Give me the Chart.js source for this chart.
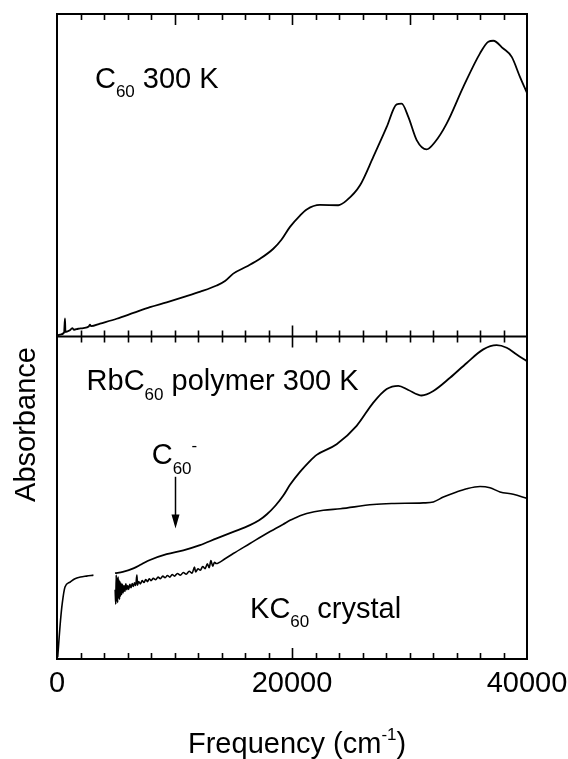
<!DOCTYPE html>
<html><head><meta charset="utf-8">
<script src="https://cdn.jsdelivr.net/npm/chart.js@4.4.0/dist/chart.umd.min.js"></script>
<style>html,body{margin:0;padding:0;background:#fff;}#wrap{width:568px;height:759px;}</style>
</head><body><div id="wrap"><canvas id="c" width="568" height="759"></canvas></div>
<script>
// ---- data (frequency in cm^-1, absorbance in arbitrary units per panel) ----
const c60Freq = [0,255,600,680,720,1100,1300,1450,1800,2240,2700,2800,2900,3660,5080,6500,7910,9330,10750,12200,13590,14300,15000,16140,17280,18410,19100,19830,20680,21250,22380,23940,24650,25790,26920,28060,28910,29330,29900,30610,31460,32170,33160,34580,36000,36710,37130,37980,38700,39400,40000];
const c60Abs  = [0.003,0.006,0.012,0.056,0.014,0.019,0.026,0.021,0.024,0.026,0.031,0.037,0.032,0.040,0.055,0.073,0.091,0.106,0.122,0.139,0.158,0.172,0.195,0.217,0.241,0.272,0.300,0.340,0.375,0.394,0.408,0.407,0.422,0.469,0.557,0.650,0.720,0.722,0.681,0.609,0.580,0.603,0.660,0.774,0.878,0.914,0.917,0.893,0.867,0.805,0.755];

const rbFreq = [4940,5600,6500,7200,7910,9330,10750,12170,13590,15000,16420,17200,17840,18600,19260,19830,20680,21500,22100,23800,25500,26920,28060,29050,29900,31040,32030,33450,34870,36280,37410,38270,39120,40000];
const rbAbs  = [0.266,0.270,0.281,0.294,0.307,0.325,0.337,0.353,0.374,0.394,0.415,0.430,0.448,0.476,0.507,0.540,0.580,0.613,0.633,0.666,0.723,0.795,0.837,0.847,0.834,0.817,0.831,0.872,0.918,0.960,0.973,0.965,0.944,0.923];

const kcFreq = [60,300,450,680,1100,1530,2000,2500,3100,3800,
  4950,5000,5040,5080,5120,5160,5200,5240,5280,5320,5360,5400,5450,5500,5560,5620,5700,5780,5860,5940,6020,6100,6200,6300,6400,6500,6600,6700,6800,6850,6950,7100,7250,7400,7550,7700,7850,8000,8200,8400,8600,8800,9000,9200,9400,9600,9800,10000,10250,10500,10750,11000,11250,11500,11700,11800,12000,12200,12400,12600,12800,12950,13100,13250,13400,13550,
  14300,15000,16420,17840,19260,19830,20300,20680,21250,22670,24100,26920,28480,31170,32030,32880,34010,34870,36000,36850,37700,38830,40000];
const kcAbs  = [0.006,0.120,0.173,0.223,0.238,0.249,0.254,0.257,0.260,null,
  0.215,0.170,0.260,0.180,0.250,0.175,0.255,0.190,0.245,0.185,0.240,0.195,0.235,0.200,0.232,0.205,0.228,0.210,0.233,0.215,0.228,0.216,0.232,0.221,0.234,0.225,0.236,0.228,0.260,0.229,0.240,0.233,0.243,0.237,0.246,0.240,0.249,0.243,0.250,0.246,0.254,0.249,0.257,0.252,0.259,0.254,0.262,0.257,0.265,0.260,0.268,0.263,0.272,0.266,0.285,0.270,0.280,0.275,0.287,0.280,0.295,0.283,0.305,0.288,0.300,0.296,
  0.311,0.327,0.358,0.389,0.418,0.430,0.438,0.444,0.451,0.461,0.466,0.479,0.482,0.484,0.487,0.502,0.518,0.528,0.535,0.531,0.518,0.511,0.498];

const xTickValues = [0, 20000, 40000];
const arrowFreq = 10000;

// ---------------------------------------------------------------------------
const FONT = '"Liberation Sans", Arial, Helvetica, sans-serif';
const toXY = (xs, ys) => xs.map((x, i) => ({x: x, y: ys[i]}));

function rich(ctx, x, y, parts) {
  let cx = x;
  for (const [t, size, dy] of parts) {
    ctx.font = size + 'px ' + FONT;
    ctx.fillText(t, cx, y + dy);
    cx += ctx.measureText(t).width;
  }
  return cx;
}

const framePlugin = {
  id: 'frame',
  afterDraw(chart) {
    const ctx = chart.ctx;
    const xs = chart.scales.x, yt = chart.scales.yTop, yb = chart.scales.yBot;
    const L = xs.left, R = xs.right, T = yt.top, M = yt.bottom, B = yb.bottom;
    ctx.save();
    ctx.strokeStyle = '#000';
    ctx.lineWidth = 2;
    ctx.beginPath();
    ctx.rect(L, T, R - L, B - T);
    ctx.moveTo(L, M); ctx.lineTo(R, M);
    ctx.stroke();
    // inward ticks
    ctx.lineWidth = 1.6;
    ctx.beginPath();
    for (let v = 2000; v < 40000; v += 2000) {
      const px = Math.round(xs.getPixelForValue(v)) + 0.5;
      const topLong = (v % 10000 === 0) ? 11 : 6;
      const long = (v % 20000 === 0) ? 11 : 6;
      ctx.moveTo(px, T); ctx.lineTo(px, T + topLong);
      ctx.moveTo(px, M); ctx.lineTo(px, M - long);
      ctx.moveTo(px, M); ctx.lineTo(px, M + long);
      ctx.moveTo(px, B); ctx.lineTo(px, B - long);
    }
    ctx.stroke();

    // annotations
    ctx.fillStyle = '#000';
    ctx.textAlign = 'left';
    ctx.textBaseline = 'alphabetic';
    rich(ctx, xs.getPixelForValue(3230), yt.getPixelForValue(0.770), [['C', 29, 0], ['60', 17, 9], [' 300 K', 29, 0]]);
    rich(ctx, xs.getPixelForValue(2520), yb.getPixelForValue(0.833), [['RbC', 29, 0], ['60', 17, 10], [' polymer 300 K', 29, 0]]);
    rich(ctx, xs.getPixelForValue(8060), yb.getPixelForValue(0.606), [['C', 29, 0], ['60', 17, 10], ['-', 17, -13]]);
    rich(ctx, xs.getPixelForValue(16430), yb.getPixelForValue(0.126), [['KC', 29, 0], ['60', 17, 9], [' crystal', 29, 0]]);

    // arrow
    const ax = Math.round(xs.getPixelForValue(arrowFreq)) + 0.5;
    const ay1 = yb.getPixelForValue(0.565), ay2 = yb.getPixelForValue(0.405);
    ctx.lineWidth = 1.5;
    ctx.beginPath(); ctx.moveTo(ax, ay1); ctx.lineTo(ax, ay2 - 10); ctx.stroke();
    ctx.beginPath(); ctx.moveTo(ax - 4, ay2 - 14); ctx.lineTo(ax + 4, ay2 - 14); ctx.lineTo(ax, ay2); ctx.closePath(); ctx.fill();

    // axis titles
    rich(ctx, 188, 753, [['Frequency (cm', 29, 0], ['-1', 17, -13], [')', 29, 0]]);
    ctx.save();
    ctx.translate(35, (T + B) / 2 + 88);
    ctx.rotate(-Math.PI / 2);
    ctx.textAlign = 'center';
    ctx.font = '29px ' + FONT;
    ctx.fillText('Absorbance', 0, 0);
    ctx.restore();
    ctx.restore();
  }
};

const lineStyle = {borderColor: '#000', borderWidth: 1.8, pointRadius: 0, fill: false, cubicInterpolationMode: 'monotone', spanGaps: false};

new Chart(document.getElementById('c'), {
  type: 'line',
  data: {
    datasets: [
      Object.assign({label: 'C60 300 K', data: toXY(c60Freq, c60Abs), yAxisID: 'yTop'}, lineStyle),
      Object.assign({label: 'RbC60 polymer 300 K', data: toXY(rbFreq, rbAbs), yAxisID: 'yBot'}, lineStyle),
      Object.assign({}, lineStyle, {label: 'KC60 crystal', data: toXY(kcFreq, kcAbs), yAxisID: 'yBot', borderWidth: 1.6})
    ]
  },
  options: {
    responsive: false,
    animation: false,
    devicePixelRatio: 1,
    layout: {padding: {left: 57, right: 41, top: 14, bottom: 0}},
    plugins: {legend: {display: false}, tooltip: {enabled: false}, title: {display: false}},
    scales: {
      x: {
        type: 'linear', min: 0, max: 40000, position: 'bottom',
        grid: {display: false, drawTicks: false}, border: {display: false},
        afterBuildTicks: s => { s.ticks = xTickValues.map(v => ({value: v})); },
        ticks: {font: {family: FONT, size: 29}, color: '#000', padding: 8, maxRotation: 0, autoSkip: false, callback: v => String(v)},
        afterFit: s => { s.height = 100; s.paddingLeft = 0; s.paddingRight = 0; }
      },
      yBot: {
        type: 'linear', min: 0, max: 1, position: 'left', stack: 'panels', stackWeight: 1,
        grid: {display: false}, border: {display: false}, ticks: {display: false},
        afterFit: s => { s.width = 0; }
      },
      yTop: {
        type: 'linear', min: 0, max: 1, position: 'left', stack: 'panels', stackWeight: 1,
        grid: {display: false}, border: {display: false}, ticks: {display: false},
        afterFit: s => { s.width = 0; }
      }
    }
  },
  plugins: [framePlugin]
});
</script></body></html>
